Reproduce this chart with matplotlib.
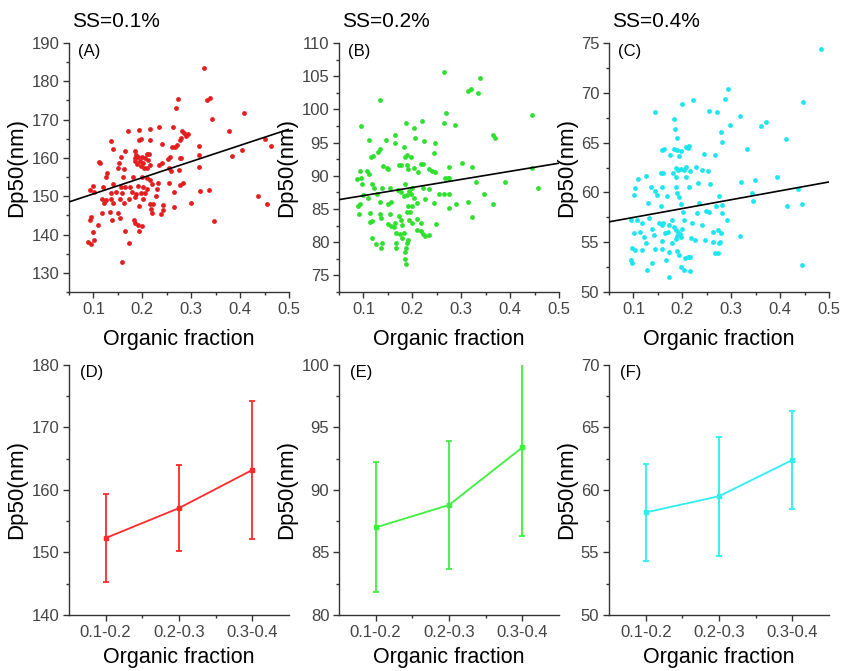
import matplotlib
matplotlib.use('Agg')
import matplotlib.pyplot as plt
from matplotlib.ticker import MultipleLocator, FixedLocator
import numpy as np

plt.rcParams['font.family'] = ['Liberation Sans', 'DejaVu Sans']

# ---- scatter data (organic fraction, Dp50) ----
a_x = [0.171, 0.194, 0.216, 0.235, 0.137, 0.141, 0.164, 0.186, 0.193, 0.198, 0.216, 0.240, 0.261,
       0.156, 0.152, 0.150, 0.163, 0.111, 0.114,
       0.185, 0.192, 0.199, 0.206, 0.212, 0.216, 0.210, 0.204, 0.197, 0.190, 0.186, 0.195, 0.202,
       0.188, 0.209, 0.214,
       0.235, 0.241, 0.256, 0.255, 0.275, 0.278, 0.128, 0.126, 0.161, 0.180, 0.199, 0.210, 0.216,
       0.220, 0.140, 0.099, 0.119, 0.157, 0.164, 0.174, 0.192, 0.201, 0.210, 0.230, 0.254, 0.094,
       0.102, 0.135, 0.147, 0.159, 0.178, 0.188, 0.197, 0.206, 0.228, 0.117, 0.125, 0.121, 0.137,
       0.140, 0.154, 0.163, 0.173, 0.185, 0.201, 0.216, 0.221, 0.243, 0.193, 0.117, 0.133, 0.150,
       0.155, 0.138, 0.096, 0.093, 0.110, 0.183, 0.185, 0.192, 0.199, 0.194, 0.099, 0.089, 0.096,
       0.102, 0.164, 0.172, 0.159, 0.218, 0.239, 0.243, 0.219, 0.233,
       0.326, 0.272, 0.333, 0.338, 0.342, 0.268, 0.408, 0.378, 0.384, 0.403, 0.451, 0.463, 0.455,
       0.437, 0.347, 0.337, 0.318, 0.299, 0.315, 0.315, 0.315, 0.280, 0.285, 0.290, 0.293, 0.282,
       0.280, 0.283, 0.278, 0.265, 0.263, 0.278, 0.270, 0.264, 0.259, 0.253, 0.267]
a_y = [167.1, 167.3, 167.5, 168.2, 164.5, 162.3, 161.7, 161.7, 164.7, 164.9, 164.7, 163.6, 162.9,
       160.2, 158.8, 157.3, 157.2, 158.9, 158.6,
       159.9, 160.3, 160.2, 159.9, 159.4, 158.1, 157.3, 157.5, 157.9, 158.4, 159.3, 159.3, 158.6,
       160.8, 160.9, 161.0,
       158.1, 158.6, 160.3, 157.3, 156.8, 159.9, 156.1, 154.9, 155.1, 154.9, 154.9, 154.7, 154.2,
       153.2, 153.2, 152.8, 152.3, 152.3, 152.5, 152.3, 152.6, 152.5, 152.0, 151.8, 153.4, 151.6,
       151.2, 150.9, 151.2, 150.8, 151.2, 150.6, 150.9, 150.9, 150.0, 149.2, 149.0, 148.3, 149.4,
       148.3, 149.2, 148.3, 149.2, 149.8, 149.2, 148.1, 148.1, 147.7, 147.5, 145.5, 145.9, 145.5,
       144.4, 143.7, 144.6, 143.7, 142.4, 143.9, 143.0, 142.4, 142.2, 141.0, 140.7, 138.1, 137.5,
       138.5, 141.0, 137.9, 132.8, 146.8, 145.3, 146.4, 145.7, 153.4,
       183.4, 175.3, 175.0, 175.7, 170.1, 173.0, 171.6, 167.0, 160.6, 162.2, 164.9, 163.2, 147.9,
       150.1, 143.5, 151.6, 151.4, 148.3, 163.2, 160.8, 157.7, 165.3, 166.5, 165.8, 166.2, 167.0,
       160.0, 153.4, 152.9, 147.2, 168.0, 164.7, 163.4, 151.2, 156.6, 159.8, 162.9]

b_x = [0.264, 0.133, 0.096, 0.188, 0.220, 0.204, 0.269, 0.264, 0.111, 0.147, 0.164, 0.164, 0.134,
       0.129, 0.119, 0.115, 0.183, 0.190, 0.186, 0.197, 0.205, 0.224, 0.246, 0.244, 0.217, 0.222,
       0.141, 0.148, 0.151, 0.172, 0.176, 0.190, 0.191, 0.204, 0.212, 0.235, 0.240, 0.246, 0.092,
       0.094, 0.107, 0.111, 0.117, 0.121, 0.097, 0.086, 0.100, 0.093, 0.088, 0.091, 0.110, 0.128,
       0.134, 0.138, 0.154, 0.150, 0.156, 0.171, 0.177, 0.186, 0.183, 0.190, 0.193, 0.197, 0.200,
       0.204, 0.191, 0.200, 0.210, 0.221, 0.226, 0.235, 0.244, 0.255, 0.264, 0.267, 0.272, 0.276,
       0.274, 0.276, 0.114, 0.117, 0.113, 0.133, 0.136, 0.155, 0.150, 0.156, 0.162, 0.165, 0.172,
       0.176, 0.179, 0.167, 0.174, 0.183, 0.190, 0.196, 0.193, 0.200, 0.210, 0.217, 0.222, 0.225,
       0.234, 0.210, 0.218, 0.248, 0.117, 0.125, 0.138, 0.136, 0.167, 0.167, 0.179, 0.190, 0.188,
       0.186, 0.186, 0.188, 0.192,
       0.339, 0.313, 0.320, 0.335, 0.287, 0.444, 0.364, 0.369, 0.302, 0.322, 0.445, 0.331, 0.389,
       0.346, 0.458, 0.289, 0.314, 0.366, 0.323, 0.275]
b_y = [105.7, 101.4, 97.5, 98.0, 98.2, 97.2, 99.5, 98.0, 95.4, 95.4, 96.2, 94.9, 94.0,
       93.6, 93.0, 92.9, 94.3, 93.2, 92.8, 92.8, 95.7, 95.3, 94.9, 93.4, 91.8, 91.8,
       91.5, 91.2, 91.0, 91.7, 91.6, 91.7, 91.0, 91.2, 90.5, 91.0, 90.7, 90.5, 90.7,
       89.6, 90.8, 90.3, 88.7, 88.2, 88.7, 89.5, 87.1, 85.7, 85.4, 84.3, 86.7, 87.3,
       86.1, 88.2, 88.2, 85.7, 86.1, 87.9, 87.5, 88.7, 87.0, 87.1, 87.7, 87.3, 88.2,
       86.6, 85.4, 85.4, 85.9, 88.2, 86.5, 88.0, 85.9, 87.2, 87.2, 89.7, 89.7, 87.2,
       89.6, 91.4, 84.4, 83.2, 83.0, 84.2, 83.7, 84.2, 82.7, 82.5, 82.3, 82.9, 83.9,
       83.3, 82.6, 81.4, 81.3, 81.4, 84.6, 84.6, 83.3, 82.9, 81.9, 81.7, 81.3, 81.0,
       81.1, 83.5, 82.9, 82.8, 80.6, 79.8, 79.9, 79.2, 79.9, 79.1, 80.6, 79.9, 79.1,
       78.5, 77.5, 76.7, 80.4,
       104.7, 102.7, 103.0, 102.5, 97.7, 99.1, 96.2, 95.7, 91.9, 91.3, 91.2, 89.1, 89.1,
       87.3, 88.1, 85.8, 86.0, 85.8, 83.8, 85.2]

c_x = [0.145, 0.199, 0.222, 0.254, 0.270, 0.183, 0.184, 0.190, 0.159, 0.162, 0.183, 0.190, 0.197,
       0.207, 0.214, 0.212, 0.175, 0.193, 0.244, 0.267, 0.156, 0.161, 0.181, 0.186, 0.191, 0.197,
       0.203, 0.207, 0.216, 0.227, 0.240, 0.253, 0.126, 0.109, 0.103, 0.101, 0.135, 0.145, 0.149,
       0.159, 0.169, 0.186, 0.188, 0.190, 0.193, 0.207, 0.214, 0.231, 0.257, 0.275, 0.130, 0.156,
       0.197, 0.201, 0.234, 0.249, 0.269, 0.282, 0.094, 0.107, 0.118, 0.132, 0.137, 0.152, 0.158,
       0.161, 0.173, 0.183, 0.188, 0.192, 0.196, 0.190, 0.199, 0.178, 0.203, 0.220, 0.229, 0.240,
       0.255, 0.263, 0.272, 0.101, 0.113, 0.122, 0.126, 0.141, 0.159, 0.165, 0.171, 0.178, 0.186,
       0.197, 0.217, 0.226, 0.246, 0.263, 0.274, 0.098, 0.118, 0.103, 0.145, 0.159, 0.173, 0.190,
       0.193, 0.205, 0.212, 0.216, 0.167, 0.094, 0.096, 0.272, 0.267, 0.127, 0.137, 0.197, 0.203,
       0.215, 0.173,
       0.483, 0.294, 0.287, 0.446, 0.317, 0.297, 0.371, 0.360, 0.280, 0.282, 0.411, 0.332, 0.319,
       0.349, 0.394, 0.343, 0.345, 0.437, 0.282, 0.415, 0.444, 0.292, 0.280, 0.317, 0.277, 0.444]
c_y = [68.1, 68.9, 69.3, 68.2, 68.1, 67.4, 66.4, 65.5, 64.3, 64.4, 64.4, 64.3, 64.2,
       64.6, 64.7, 64.5, 63.8, 63.7, 63.9, 63.8, 61.9, 61.9, 61.9, 62.5, 62.3, 62.4,
       62.3, 62.6, 62.2, 62.6, 62.3, 62.2, 61.6, 61.3, 60.4, 59.7, 60.5, 60.1, 59.7,
       60.5, 59.6, 61.5, 60.5, 59.9, 59.5, 61.5, 60.5, 60.9, 60.8, 59.6, 58.9, 58.6,
       58.8, 58.0, 58.9, 58.1, 58.6, 57.9, 57.2, 57.2, 56.9, 57.4, 56.3, 56.9, 56.7,
       56.9, 56.7, 56.5, 56.2, 56.0, 55.8, 55.6, 56.3, 57.2, 57.2, 56.9, 57.9, 56.7,
       58.0, 56.0, 56.2, 55.9, 56.0, 55.5, 54.9, 55.7, 55.1, 55.9, 56.0, 54.9, 55.3,
       55.5, 55.4, 55.2, 55.2, 55.0, 54.9, 54.4, 54.2, 54.2, 54.3, 54.3, 54.0, 54.1,
       53.7, 53.4, 53.5, 53.5, 53.2, 53.2, 52.9, 53.9, 53.9, 52.2, 52.9, 52.5, 52.2,
       52.1, 51.5,
       74.4, 70.4, 69.4, 69.1, 67.7, 66.8, 67.1, 66.7, 66.1, 65.1, 65.4, 64.4, 61.0,
       61.2, 61.5, 59.9, 59.1, 60.3, 58.7, 58.6, 58.8, 57.2, 55.9, 55.6, 55.0, 52.7]

# linear fits drawn in the original: (intercept, slope)
fit_a = (146.4, 42.2)
fit_b = (85.8, 12.2)
fit_c = (56.6, 8.9)

# ---- binned means with standard deviation ----
bins = ['0.1-0.2', '0.2-0.3', '0.3-0.4']
d_mean = [152.3, 157.1, 163.2]
d_err = [7.1, 6.9, 11.1]
e_mean = [87.0, 88.8, 93.4]
e_err = [5.2, 5.1, 7.1]
f_mean = [58.2, 59.5, 62.4]
f_err = [3.9, 4.75, 3.9]

titles = ['SS=0.1%', 'SS=0.2%', 'SS=0.4%']

red = '#e41e1e'
green = '#2fe02f'
cyan = '#1ee6ee'
tick_col = '#444444'

fig = plt.figure(figsize=(8.42, 6.71), dpi=100)
lefts = [0.0819, 0.4026, 0.7233]
w = 0.2613


def style(ax, major, minor, ylim, xpad):
    for s in ['top', 'right']:
        ax.spines[s].set_visible(False)
    for s in ['left', 'bottom']:
        ax.spines[s].set_color('#333333')
        ax.spines[s].set_linewidth(1.0)
    ax.set_ylim(*ylim)
    ax.yaxis.set_major_locator(MultipleLocator(major))
    ax.yaxis.set_minor_locator(MultipleLocator(minor))
    ax.tick_params(which='major', direction='out', length=4, width=1, color='#333333',
                   labelsize=12, labelcolor=tick_col, pad=3)
    ax.tick_params(which='minor', direction='out', length=2.5, width=1, color='#333333')
    ax.set_ylabel('Dp50(nm)', fontsize=16, labelpad=3)
    ax.set_xlabel('Organic fraction', fontsize=15.5, labelpad=xpad)


def scatter_panel(ax, x, y, fit, color, ylim, major, minor, letter, title):
    ax.scatter(x, y, s=12, color=color, linewidths=0, zorder=2)
    xs = np.array([0.05, 0.5])
    ax.plot(xs, fit[0] + fit[1] * xs, color='black', lw=1.2, zorder=3)
    ax.set_xlim(0.05, 0.5)
    ax.xaxis.set_major_locator(MultipleLocator(0.1))
    ax.xaxis.set_minor_locator(MultipleLocator(0.05))
    style(ax, major, minor, ylim, 9)
    ax.text(0.04, 0.965, letter, transform=ax.transAxes, fontsize=12, va='center')
    ax.text(0.015, 1.085, title, transform=ax.transAxes, fontsize=15, va='center')


def error_panel(ax, mean, err, color, ylim, major, minor, letter):
    pos = np.arange(1, len(bins) + 1)
    ax.errorbar(pos, mean, yerr=err, color=color, lw=1.3, elinewidth=1.3,
                capsize=2.5, capthick=1.3, marker='s', ms=3.5)
    ax.set_xlim(0.5, 3.5)
    ax.set_xticks(pos)
    ax.set_xticklabels(bins)
    ax.xaxis.set_minor_locator(FixedLocator([1.5, 2.5]))
    style(ax, major, minor, ylim, 5)
    ax.text(0.05, 0.968, letter, transform=ax.transAxes, fontsize=12, va='center')


axa = fig.add_axes([lefts[0], 0.5648, w, 0.3711])
scatter_panel(axa, a_x, a_y, fit_a, red, (125, 190), 10, 5, '(A)', titles[0])
axb = fig.add_axes([lefts[1], 0.5648, w, 0.3711])
scatter_panel(axb, b_x, b_y, fit_b, green, (72.5, 110), 5, 2.5, '(B)', titles[1])
axc = fig.add_axes([lefts[2], 0.5648, w, 0.3711])
scatter_panel(axc, c_x, c_y, fit_c, cyan, (50, 75), 5, 2.5, '(C)', titles[2])

axd = fig.add_axes([lefts[0], 0.0835, w, 0.3726])
error_panel(axd, d_mean, d_err, '#ff2a2a', (140, 180), 10, 5, '(D)')
axe = fig.add_axes([lefts[1], 0.0835, w, 0.3726])
error_panel(axe, e_mean, e_err, '#3cf03c', (80, 100), 5, 2.5, '(E)')
axf = fig.add_axes([lefts[2], 0.0835, w, 0.3726])
error_panel(axf, f_mean, f_err, '#2eeeee', (50, 70), 5, 2.5, '(F)')

fig.savefig('out.png', dpi=100)
